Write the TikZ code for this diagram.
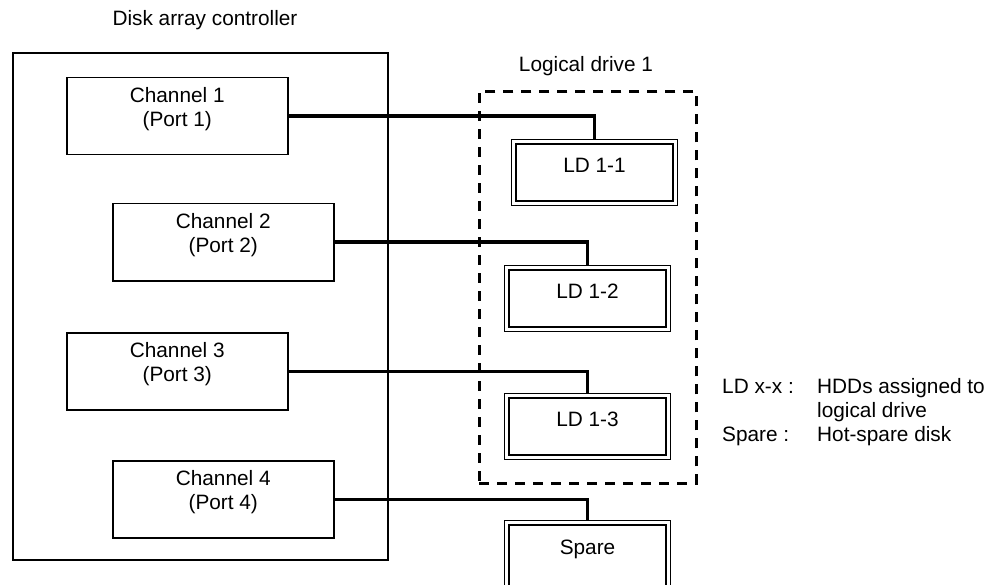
\documentclass[tikz,border=0pt]{standalone}
\usepackage{fontspec}
\setmainfont{Liberation Sans}
\usetikzlibrary{positioning}

\tikzset{
  every node/.style={font=\fontsize{20.8pt}{24pt}\selectfont},
  ctrlbox/.style={draw, line width=2.4pt, minimum width=375pt, minimum height=507pt, anchor=north west, inner sep=0pt},
  chan/.style={draw, line width=1.5pt, minimum width=221pt, minimum height=77pt, anchor=north west, inner sep=0pt},
  chantext/.style={anchor=north, yshift=-10pt, align=center, inner sep=0pt},
  group/.style={draw, line width=2.7pt, dash pattern=on 10pt off 8pt, minimum width=217pt, minimum height=392pt, anchor=north west, inner sep=0pt},
  drive/.style={draw, line width=1pt, minimum width=166pt, minimum height=66pt, anchor=north west, text height=8pt, text depth=8pt},
  driveline/.style={line width=2.6pt},
  link/.style={line width=3.5pt}
}

\begin{document}
\begin{tikzpicture}[x=1pt,y=-1pt]
    \useasboundingbox (0,0) rectangle (990,585);

    % draw the controller and its channels
    \node[ctrlbox] (ctrl) at (12,52) {};
    \node[anchor=base] (ctrltitle) at (205,26) {Disk array controller};

    \node[chan, label={[chantext]north:Channel 1\\(Port 1)}] (ch1) at (66,77) {};
    \node[chan, label={[chantext]north:Channel 2\\(Port 2)}] (ch2) at (112,203) {};
    \node[chan, label={[chantext]north:Channel 3\\(Port 3)}] (ch3) at (66,332) {};
    \node[chan, label={[chantext]north:Channel 4\\(Port 4)}] (ch4) at (112,460) {};

    % draw the logical drive and the disks
    \node[group] (grp) at (478,90) {};
    \node[anchor=base] (grptitle) at (586,72) {Logical drive 1};

    \node[drive] (ld1) at (511,139) {LD 1-1};
    \node[drive] (ld2) at (504,265) {LD 1-2};
    \node[drive] (ld3) at (504,393) {LD 1-3};
    \node[drive, minimum height=76pt, text height=4pt, text depth=12pt] (spare) at (504,520) {Spare};

    % inner line of the double frames
    \foreach \d in {ld1,ld2,ld3,spare}
        \draw[driveline] ([shift={(5pt,-5pt)}]\d.north west) rectangle ([shift={(-5pt,5pt)}]\d.south east);

    % draw the cables
    \draw[link] (ch1.east) -| (ld1.north);
    \draw[link] (ch2.east) -| (ld2.north);
    \draw[link] (ch3.east) -| (ld3.north);
    \draw[link] (ch4.east) -| (spare.north);

    % legend
    \node[anchor=base west, inner sep=0pt] (legend) at (722,393)
        {\begin{tabular}[t]{@{}p{95pt}@{}l@{}}
         LD x-x : & HDDs assigned to\\
                  & logical drive\\
         Spare :  & Hot-spare disk
         \end{tabular}};
\end{tikzpicture}
\end{document}
